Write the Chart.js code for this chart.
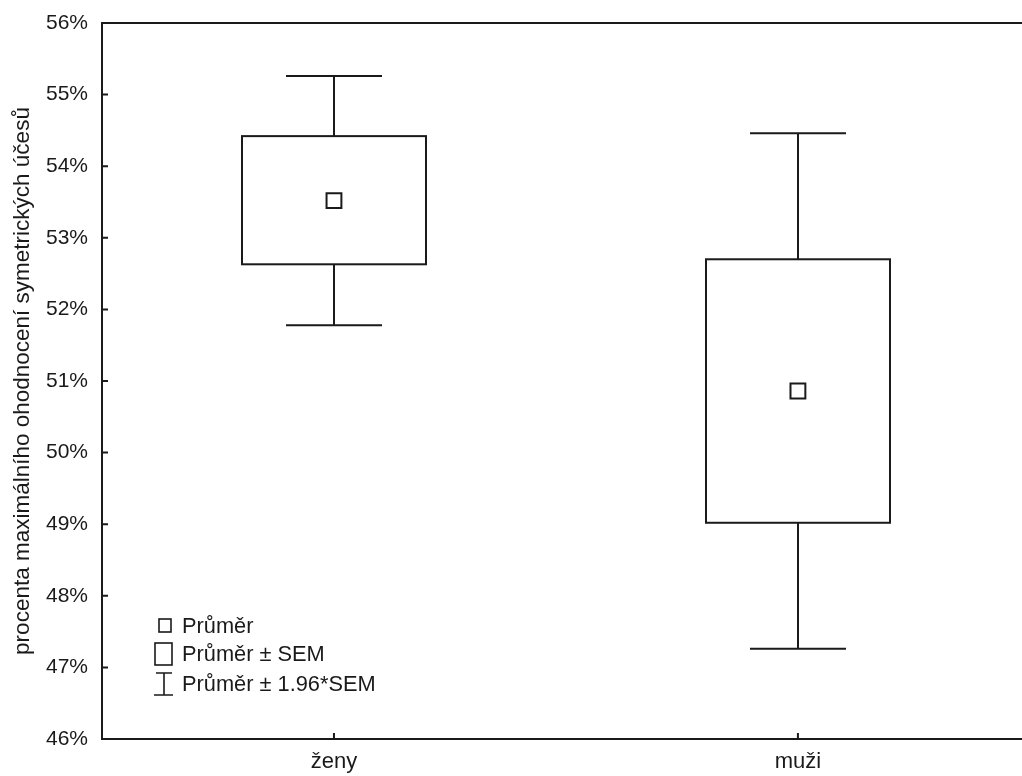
<!DOCTYPE html>
<html>
<head>
<meta charset="utf-8">
<script src="https://cdn.jsdelivr.net/npm/chart.js@4.4.1/dist/chart.umd.min.js"></script>
<style>
html,body{margin:0;padding:0;background:#fff;}
#wrap{width:1022px;height:776px;}
</style>
</head>
<body>
<div id="wrap"><canvas id="c" width="1022" height="776"></canvas></div>
<script>
// ---- data ----
const categories = ['ženy', 'muži'];
const means = [53.52, 50.86];
const semLow = [52.63, 49.02];
const semHigh = [54.42, 52.70];
const ciLow = [51.78, 47.26];
const ciHigh = [55.26, 54.46];
const yTickValues = [46, 47, 48, 49, 50, 51, 52, 53, 54, 55, 56];
const legendLabels = ['Průměr', 'Průměr ± SEM', 'Průměr ± 1.96*SEM'];
const yTitle = 'procenta maximálního ohodnocení symetrických účesů';

const INK = '#1a1a1a';
const FONT = "'Liberation Sans', Arial, sans-serif";

const boxPlugin = {
  id: 'boxPlugin',
  beforeDatasetsDraw(chart) {
    const ctx = chart.ctx, xs = chart.scales.x, ys = chart.scales.y;
    ctx.save();
    ctx.strokeStyle = INK;
    ctx.lineWidth = 2;
    const boxHalf = 92, capHalf = 48;
    categories.forEach((c, i) => {
      const cx = Math.round(xs.getPixelForValue(i + 1));
      const yT = ys.getPixelForValue(semHigh[i]);
      const yB = ys.getPixelForValue(semLow[i]);
      const wT = ys.getPixelForValue(ciHigh[i]);
      const wB = ys.getPixelForValue(ciLow[i]);
      ctx.beginPath();
      ctx.moveTo(cx, wT); ctx.lineTo(cx, yT);
      ctx.moveTo(cx, yB); ctx.lineTo(cx, wB);
      ctx.moveTo(cx - capHalf, wT); ctx.lineTo(cx + capHalf, wT);
      ctx.moveTo(cx - capHalf, wB); ctx.lineTo(cx + capHalf, wB);
      ctx.stroke();
      ctx.fillStyle = '#fff';
      ctx.fillRect(cx - boxHalf, yT, boxHalf * 2, yB - yT);
      ctx.strokeRect(cx - boxHalf, yT, boxHalf * 2, yB - yT);
    });
    ctx.restore();
  },
  afterDraw(chart) {
    const ctx = chart.ctx, xs = chart.scales.x, ys = chart.scales.y;
    const a = chart.chartArea;
    ctx.save();
    ctx.strokeStyle = INK;
    ctx.lineWidth = 2;
    ctx.beginPath();
    ctx.moveTo(a.left, a.top); ctx.lineTo(a.right, a.top);
    ys.ticks.forEach(t => {
      const y = ys.getPixelForValue(t.value);
      ctx.moveTo(a.left, y); ctx.lineTo(a.left + 6, y);
    });
    xs.ticks.forEach(t => {
      const x = xs.getPixelForValue(t.value);
      ctx.moveTo(x, a.bottom); ctx.lineTo(x, a.bottom - 6);
    });
    ctx.stroke();

    // legend
    ctx.lineWidth = 1.6;
    ctx.font = '21.8px ' + FONT;
    ctx.fillStyle = INK;
    ctx.textBaseline = 'middle';
    ctx.textAlign = 'left';
    const lx = a.left + 51, tx = a.left + 80;
    const rows = [626, 654, 684];
    ctx.strokeRect(lx + 6, rows[0] - 7, 12, 13);
    ctx.strokeRect(lx + 2, rows[1] - 11, 17, 22);
    ctx.beginPath();
    ctx.moveTo(lx + 11, rows[2] - 11); ctx.lineTo(lx + 11, rows[2] + 11);
    ctx.moveTo(lx + 3, rows[2] - 11); ctx.lineTo(lx + 19, rows[2] - 11);
    ctx.moveTo(lx + 1, rows[2] + 11); ctx.lineTo(lx + 20, rows[2] + 11);
    ctx.stroke();
    legendLabels.forEach((l, i) => ctx.fillText(l, tx, rows[i] + 1));
    ctx.restore();
  }
};

new Chart(document.getElementById('c'), {
  type: 'scatter',
  data: {
    datasets: [{
      data: categories.map((c, i) => ({ x: i + 1, y: means[i] })),
      pointStyle: 'rect',
      pointRadius: 10.5,
      pointHoverRadius: 10.5,
      backgroundColor: '#fff',
      borderColor: INK,
      borderWidth: 2
    }]
  },
  options: {
    responsive: false,
    animation: false,
    devicePixelRatio: 1,
    layout: { autoPadding: false, padding: { top: 23, right: 0, left: 0, bottom: 0 } },
    plugins: { legend: { display: false }, tooltip: { enabled: false } },
    scales: {
      x: {
        type: 'linear',
        min: 0.5,
        max: 2.483,
        afterBuildTicks: s => { s.ticks = categories.map((c, i) => ({ value: i + 1 })); },
        afterFit: s => { s.height = 37; s.paddingLeft = 0; s.paddingRight = 0; },
        ticks: {
          callback: v => categories[v - 1],
          font: { family: FONT, size: 22 },
          color: INK,
          padding: 10,
          maxRotation: 0
        },
        grid: { display: false, drawTicks: false },
        border: { display: true, color: INK, width: 2 }
      },
      y: {
        min: 46,
        max: 56,
        afterBuildTicks: s => { s.ticks = yTickValues.map(v => ({ value: v })); },
        afterFit: s => { s.width = 102; s.paddingTop = 0; s.paddingBottom = 0; },
        ticks: {
          callback: v => v + '%',
          font: { family: FONT, size: 21 },
          color: INK,
          padding: 14
        },
        grid: { display: false, drawTicks: false },
        border: { display: true, color: INK, width: 2 },
        title: {
          display: true,
          text: yTitle,
          font: { family: FONT, size: 22.5 },
          color: INK,
          padding: { top: 9, bottom: 0 }
        }
      }
    }
  },
  plugins: [boxPlugin]
});
</script>
</body>
</html>
